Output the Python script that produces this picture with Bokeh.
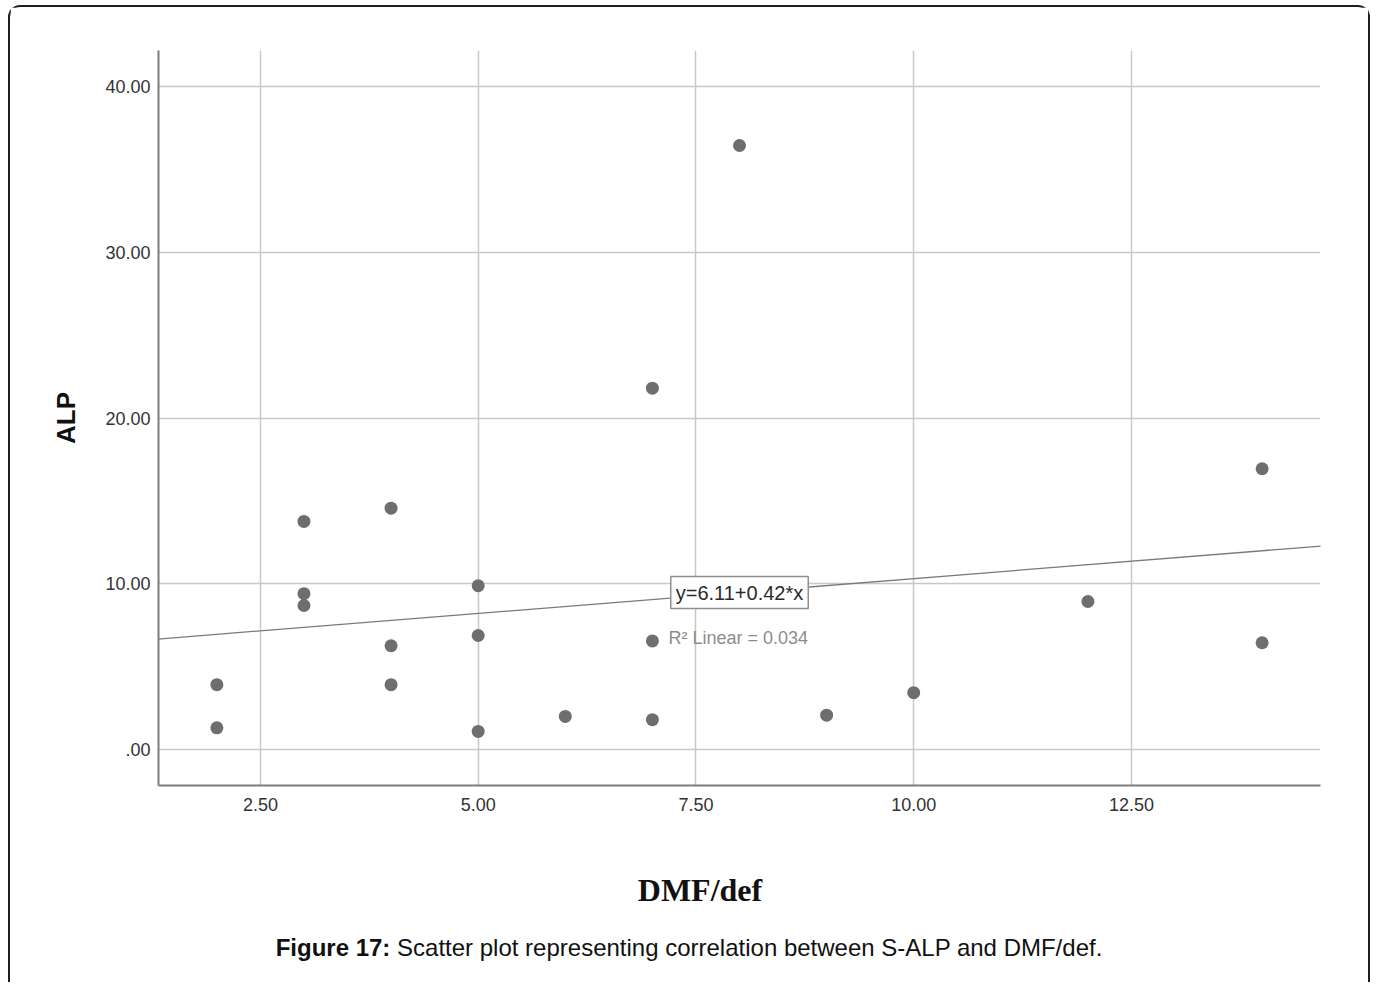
from bokeh.embed import file_html
from bokeh.layouts import column
from bokeh.models import Div, FixedTicker, Label, Range1d, Slope
from bokeh.plotting import figure
from bokeh.resources import INLINE

# DMF/def score against serum ALP, one dot per subject
dmf = [2, 2, 3, 3, 3, 4, 4, 4, 5, 5, 5, 6, 7, 7, 7, 8, 9, 10, 12, 14, 14]
alp = [3.91, 1.31, 13.76, 9.40, 8.69, 14.56, 6.26, 3.91, 9.88, 6.88, 1.09,
       2.00, 21.80, 6.55, 1.80, 36.44, 2.07, 3.43, 8.93, 16.94, 6.44]

x_ticks = [2.5, 5.0, 7.5, 10.0, 12.5]
x_tick_labels = ["2.50", "5.00", "7.50", "10.00", "12.50"]
y_ticks = [0, 10, 20, 30, 40]
y_tick_labels = [".00", "10.00", "20.00", "30.00", "40.00"]

# linear fit reported on the chart
intercept = 6.11
slope = 0.42
r_squared = 0.034

x_title = "DMF/def"
y_title = "ALP"
caption_head = "Figure 17:"
caption_body = "Scatter plot representing correlation between S-ALP and DMF/def."

# geometry: page offset of the figure and its frame (page pixels)
OX, OY = 10, 7
FIG_W, FIG_H = 1358, 843
FL, FR, FT, FB = 158, 1320, 50, 785
X0, X1 = 1.33, 14.67
Y0, Y1 = -2.17, 42.17
BORDER = 2


def px_x(px):
    return X0 + (px - FL) * (X1 - X0) / (FR - FL)


def px_y(py):
    return Y1 - (py - FT) * (Y1 - Y0) / (FB - FT)


p = figure(
    width=FIG_W, height=FIG_H,
    x_range=Range1d(X0, X1), y_range=Range1d(Y0, Y1),
    output_backend="svg", toolbar_location=None,
    min_border_left=FL - OX, min_border_right=OX + FIG_W - FR,
    min_border_top=FT - OY, min_border_bottom=OY + FIG_H - FB,
)
p.outline_line_color = None
p.background_fill_color = "white"
p.border_fill_color = "white"

# axes
p.xaxis.ticker = FixedTicker(ticks=x_ticks)
p.yaxis.ticker = FixedTicker(ticks=y_ticks)
p.xaxis.major_label_overrides = dict(zip(x_ticks, x_tick_labels))
p.yaxis.major_label_overrides = dict(zip(y_ticks, y_tick_labels))
for ax in (p.xaxis, p.yaxis):
    ax.major_tick_out = 0
    ax.major_tick_in = 0
    ax.minor_tick_out = 0
    ax.minor_tick_in = 0
    ax.axis_line_color = "#7c7c7c"
    ax.axis_line_width = 2
    ax.major_label_text_font = "Liberation Sans"
    ax.major_label_text_font_size = "18px"
    ax.major_label_text_color = "#333333"
p.xaxis.major_label_standoff = 12
p.yaxis.major_label_standoff = 8

p.yaxis.axis_label = y_title
p.yaxis.axis_label_text_font = "Liberation Sans"
p.yaxis.axis_label_text_font_size = "26px"
p.yaxis.axis_label_text_font_style = "bold"
p.yaxis.axis_label_text_color = "#111111"
p.yaxis.axis_label_standoff = 21

# grid
p.xgrid.ticker = FixedTicker(ticks=x_ticks)
p.ygrid.ticker = FixedTicker(ticks=y_ticks)
p.grid.grid_line_color = "#c8c8c8"
p.grid.grid_line_width = 1.5

# fit line
p.add_layout(Slope(gradient=slope, y_intercept=intercept,
                   line_color="#7a7a7a", line_width=1.3))

# points
p.scatter(dmf, alp, size=13, fill_color="#6e6e6e", line_color=None)

# fit equation and R squared
x_eq = 8.0
p.add_layout(Label(
    x=x_eq, y=intercept + slope * x_eq,
    text=f"y={intercept:.2f}+{slope:.2f}*x",
    text_font="Liberation Sans", text_font_size="20px",
    text_color="#2a2a2a", text_align="center", text_baseline="middle",
    background_fill_color="white", border_line_color="#8f8f8f",
    border_line_width=1.5, padding=5,
))
p.add_layout(Label(
    x=px_x(668), y=px_y(637),
    text=f"R\u00b2 Linear = {r_squared:.3f}",
    text_font="Liberation Sans", text_font_size="18px",
    text_color="#8c8c8c", text_align="left", text_baseline="alphabetic",
))

# x-axis title, set a little right of the page centre
title_div = Div(
    text=x_title,
    width=FIG_W, height=80, margin=0,
    styles={
        "text-align": "center",
        "text-indent": "22px",
        "font-family": "'Liberation Serif', 'Times New Roman', serif",
        "font-weight": "bold",
        "font-size": "32px",
        "line-height": "80px",
        "color": "#111111",
    },
)

# caption under the chart
caption = Div(
    text=f"<b>{caption_head}</b> {caption_body}",
    width=FIG_W, height=52, margin=0,
    styles={
        "text-align": "center",
        "font-family": "'Liberation Sans', Arial, sans-serif",
        "font-size": "24px",
        "line-height": "36px",
        "color": "#111111",
    },
)

border = f"{BORDER}px solid #1e1e1e"
page = column(
    p, title_div, caption,
    width=FIG_W + 2 * BORDER,
    margin=(OY - BORDER, 0, 0, OX - BORDER),
    styles={
        "border-top": border,
        "border-left": border,
        "border-right": border,
        "border-top-left-radius": "12px",
        "border-top-right-radius": "12px",
        "background-color": "white",
    },
)

open("out.html", "w").write(file_html(page, INLINE))
